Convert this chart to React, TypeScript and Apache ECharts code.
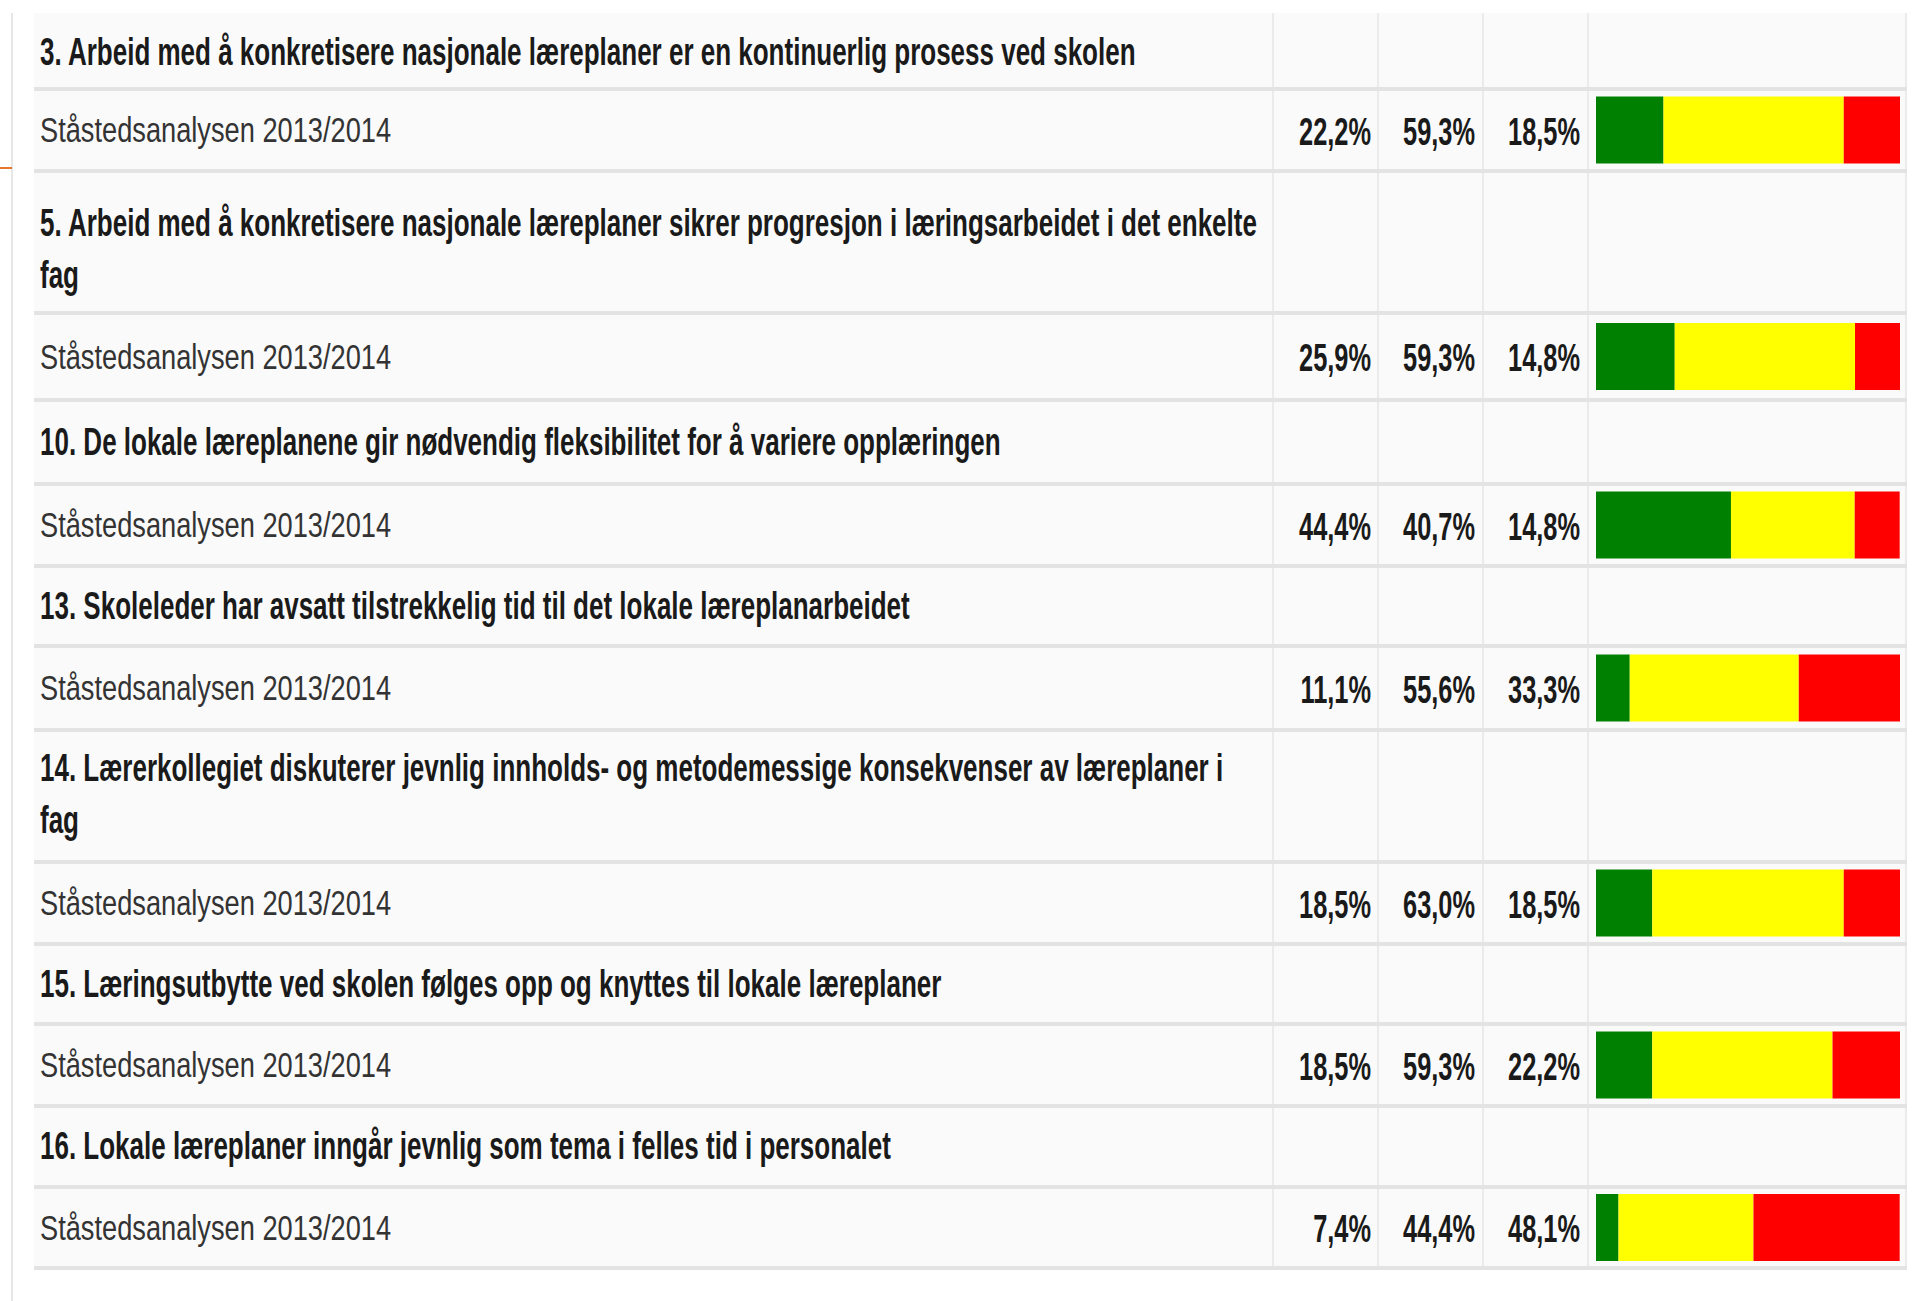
import React, { useEffect, useRef } from "react";
import * as echarts from "echarts";

// ---------- data ----------
const questions: string[] = [
  "3. Arbeid med å konkretisere nasjonale læreplaner er en kontinuerlig prosess ved skolen",
  "5. Arbeid med å konkretisere nasjonale læreplaner sikrer progresjon i læringsarbeidet i det enkelte\nfag",
  "10. De lokale læreplanene gir nødvendig fleksibilitet for å variere opplæringen",
  "13. Skoleleder har avsatt tilstrekkelig tid til det lokale læreplanarbeidet",
  "14. Lærerkollegiet diskuterer jevnlig innholds- og metodemessige konsekvenser av læreplaner i\nfag",
  "15. Læringsutbytte ved skolen følges opp og knyttes til lokale læreplaner",
  "16. Lokale læreplaner inngår jevnlig som tema i felles tid i personalet",
];
const surveyLabel = "Ståstedsanalysen 2013/2014";
const greenValues: number[] = [22.2, 25.9, 44.4, 11.1, 18.5, 18.5, 7.4];
const yellowValues: number[] = [59.3, 59.3, 40.7, 55.6, 63.0, 59.3, 44.4];
const redValues: number[] = [18.5, 14.8, 14.8, 33.3, 18.5, 22.2, 48.1];

// ---------- layout ----------
const SEPARATORS = [15, 89, 171, 313, 400, 484, 566, 646, 730, 862, 944, 1024, 1106, 1187, 1268];
const QUESTION_SHIFT = [-1, 6, -1, -1, -3, -1, -1];
const TABLE_LEFT = 34;
const TABLE_RIGHT = 1907;
const TABLE_TOP = 13;
const COL_LINES = [1273, 1378, 1483, 1588, 1906];
const PCT_RIGHT = [1371, 1475, 1580];
const BAR_LEFT = 1596;
const BAR_WIDTH = 304;
const BAR_HEIGHT = 67;
const FONT = '"Liberation Sans", Arial, Helvetica, sans-serif';

const fmt = (v: number) => v.toFixed(1).replace(".", ",") + "%";

export default function App() {
  const ref = useRef<HTMLDivElement>(null);

  useEffect(() => {
    if (!ref.current) return;
    const chart = echarts.init(ref.current, null, { renderer: "svg" });

    const graphic: any[] = [];
    const tableBottom = SEPARATORS[SEPARATORS.length - 1];
    graphic.push({
      type: "rect",
      z: 0,
      shape: { x: TABLE_LEFT, y: TABLE_TOP, width: TABLE_RIGHT - TABLE_LEFT, height: tableBottom - TABLE_TOP },
      style: { fill: "#fafafa" },
    });
    COL_LINES.forEach((x) => {
      graphic.push({
        type: "rect",
        z: 1,
        shape: { x: x - 1, y: TABLE_TOP, width: 2, height: tableBottom - TABLE_TOP },
        style: { fill: "#ebebeb" },
      });
    });
    SEPARATORS.slice(1).forEach((y) => {
      graphic.push({
        type: "rect",
        z: 2,
        shape: { x: TABLE_LEFT, y: y - 2, width: TABLE_RIGHT - TABLE_LEFT, height: 4 },
        style: { fill: "#e3e3e3" },
      });
    });
    graphic.push({
      type: "rect",
      z: 2,
      shape: { x: 11, y: TABLE_TOP, width: 2, height: 1301 - TABLE_TOP },
      style: { fill: "#e6e6e6" },
    });
    graphic.push({
      type: "rect",
      z: 3,
      shape: { x: 0, y: 167, width: 12, height: 2 },
      style: { fill: "#e8772e" },
    });

    const grids: any[] = [];
    const xAxes: any[] = [];
    const yAxes: any[] = [];
    const series: any[] = [];

    questions.forEach((q, k) => {
      const qTop = SEPARATORS[2 * k];
      const qBottom = SEPARATORS[2 * k + 1];
      const dBottom = SEPARATORS[2 * k + 2];
      const qCenter = (qTop + qBottom) / 2;
      const dCenter = (qBottom + dBottom) / 2;

      const lines = q.split("\n");
      const lineGap = 52;
      lines.forEach((line, i) => {
        const cy = qCenter + QUESTION_SHIFT[k] + (i - (lines.length - 1) / 2) * lineGap;
        graphic.push({
          type: "text",
          z: 5,
          x: 40,
          y: cy,
          scaleX: 0.743,
          scaleY: 1.12,
          style: {
            text: line,
            fill: "#1a1a1a",
            fontFamily: FONT,
            fontWeight: "bold",
            fontSize: 35,
            align: "left",
            verticalAlign: "middle",
          },
        });
      });

      graphic.push({
        type: "text",
        z: 5,
        x: 40,
        y: dCenter + 0.5,
        scaleX: 0.851,
        scaleY: 1.1,
        style: {
          text: surveyLabel,
          fill: "#333333",
          fontFamily: FONT,
          fontSize: 32,
          align: "left",
          verticalAlign: "middle",
        },
      });

      [greenValues[k], yellowValues[k], redValues[k]].forEach((v, j) => {
        graphic.push({
          type: "text",
          z: 5,
          x: PCT_RIGHT[j],
          y: dCenter + 1,
          scaleX: 0.668,
          scaleY: 1.04,
          style: {
            text: fmt(v),
            fill: "#1a1a1a",
            fontFamily: FONT,
            fontWeight: "bold",
            fontSize: 38,
            align: "right",
            verticalAlign: "middle",
          },
        });
      });

      grids.push({
        left: BAR_LEFT,
        top: dCenter - BAR_HEIGHT / 2,
        width: BAR_WIDTH,
        height: BAR_HEIGHT,
        containLabel: false,
      });
      xAxes.push({ type: "value", gridIndex: k, min: 0, max: 100, show: false });
      yAxes.push({ type: "category", gridIndex: k, data: [surveyLabel], show: false });

      const parts = [
        { name: "green", data: greenValues[k], color: "#008000" },
        { name: "yellow", data: yellowValues[k], color: "#ffff00" },
        { name: "red", data: redValues[k], color: "#ff0000" },
      ];
      parts.forEach((p) => {
        series.push({
          type: "bar",
          name: p.name,
          xAxisIndex: k,
          yAxisIndex: k,
          stack: "row" + k,
          barWidth: "100%",
          data: [p.data],
          itemStyle: { color: p.color },
          silent: true,
          z: 10,
        });
      });
    });

    chart.setOption({
      animation: false,
      backgroundColor: "#ffffff",
      graphic: { elements: graphic },
      grid: grids,
      xAxis: xAxes,
      yAxis: yAxes,
      series,
    });

    return () => chart.dispose();
  }, []);

  return (
    <div
      ref={ref}
      style={{ position: "fixed", left: 0, top: 0, width: 1912, height: 1301 }}
    />
  );
}
